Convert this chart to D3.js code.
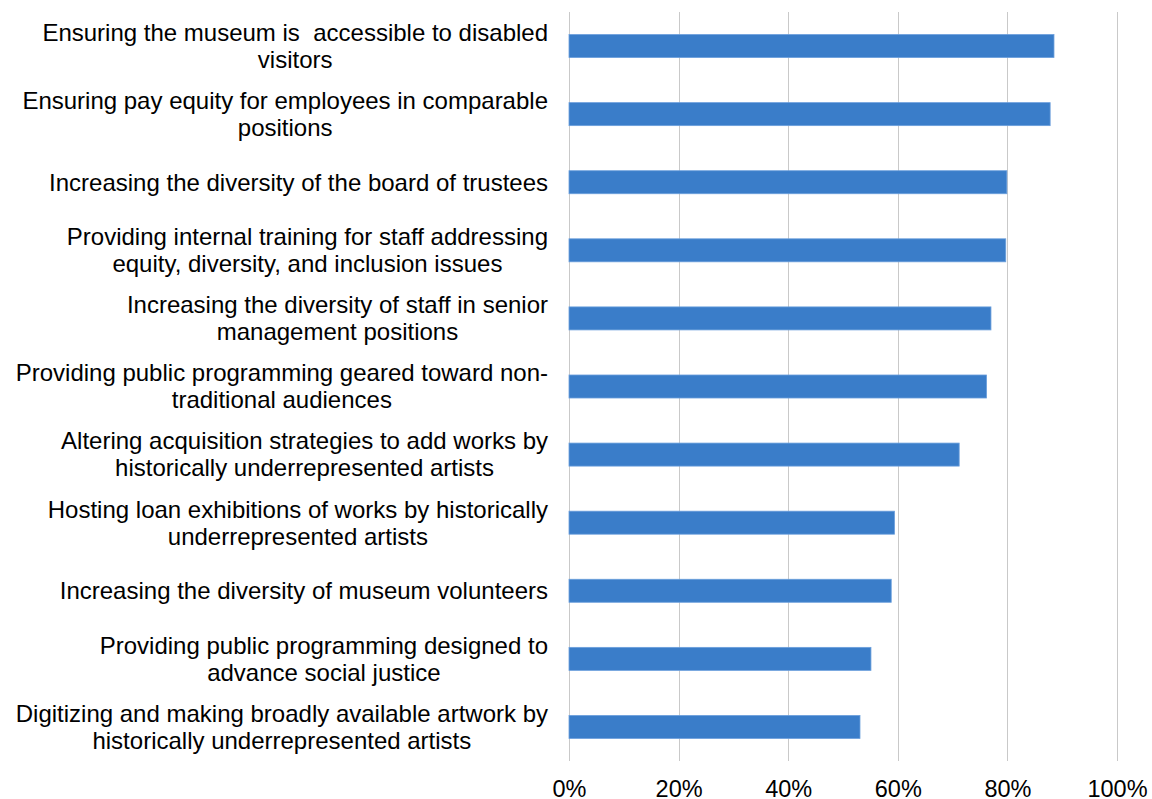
<!DOCTYPE html>
<html>
<head>
<meta charset="utf-8">
<script src="https://cdn.jsdelivr.net/npm/d3@7"></script>
<style>
  html, body { margin: 0; padding: 0; background: #fff; }
  svg { display: block; font-family: "Liberation Sans", Arial, sans-serif; }
</style>
</head>
<body>
<svg id="chart" width="1152" height="799"></svg>
<script>
// Category labels (line breaks as wrapped on the axis)
const categories = [
  "Ensuring the museum is  accessible to disabled\nvisitors",
  "Ensuring pay equity for employees in comparable\npositions",
  "Increasing the diversity of the board of trustees",
  "Providing internal training for staff addressing\nequity, diversity, and inclusion issues",
  "Increasing the diversity of staff in senior\nmanagement positions",
  "Providing public programming geared toward non-\ntraditional audiences",
  "Altering acquisition strategies to add works by\nhistorically underrepresented artists",
  "Hosting loan exhibitions of works by historically\nunderrepresented artists",
  "Increasing the diversity of museum volunteers",
  "Providing public programming designed to\nadvance social justice",
  "Digitizing and making broadly available artwork by\nhistorically underrepresented artists"
];

// Share of respondents (fraction)
const values = [0.885, 0.878, 0.799, 0.797, 0.770, 0.762, 0.712, 0.594, 0.588, 0.551, 0.531];

// X axis tick values
const ticks = [0, 0.2, 0.4, 0.6, 0.8, 1.0];

const svg = d3.select("#chart");
const plotLeft = 569, plotRight = 1117, plotTop = 12, plotBottom = 761;

const x = d3.scaleLinear().domain([0, 1]).range([plotLeft, plotRight]);
const y = d3.scaleBand().domain(categories).range([plotTop, plotBottom]).paddingInner(0.662).paddingOuter(0.331);

// vertical gridlines
svg.append("g")
  .selectAll("line")
  .data(ticks)
  .join("line")
  .attr("x1", d => Math.round(x(d)) + 0.5)
  .attr("x2", d => Math.round(x(d)) + 0.5)
  .attr("y1", plotTop)
  .attr("y2", plotBottom)
  .attr("stroke", "#c9c9c9")
  .attr("stroke-width", 1);

// bars
svg.append("g")
  .selectAll("rect")
  .data(categories)
  .join("rect")
  .attr("x", x(0))
  .attr("y", d => y(d))
  .attr("width", (d, i) => x(values[i]) - x(0))
  .attr("height", y.bandwidth())
  .attr("fill", "#3a7dc9")
  .attr("stroke", "#6b9fdc")
  .attr("stroke-width", 0.8);

// x axis tick labels
const xAxis = d3.axisBottom(x).tickValues(ticks).tickFormat(d3.format(".0%")).tickSize(0).tickPadding(0);
const gx = svg.append("g").attr("transform", `translate(0, ${plotBottom + 19})`).call(xAxis);
gx.select(".domain").remove();
gx.selectAll("text")
  .attr("font-size", 23.5)
  .attr("font-family", "Liberation Sans, Arial, sans-serif")
  .attr("fill", "#000")
  .attr("dy", "0.71em");

// category labels: block right-aligned to the axis, lines centred within it
const labelRight = 548;
const lineH = 27;
const lg = svg.append("g");
categories.forEach(c => {
  const lines = c.split("\n");
  const t = lg.append("text")
    .attr("font-size", 24)
    .attr("fill", "#000")
    .style("white-space", "pre");
  const spans = lines.map(l => t.append("tspan").text(l));
  const widths = spans.map(s => s.node().getComputedTextLength());
  const maxW = d3.max(widths);
  const cy = y(c) + y.bandwidth() / 2;
  const y0 = cy - (lines.length - 1) * lineH / 2;
  spans.forEach((s, i) => {
    s.attr("x", labelRight - maxW / 2)
     .attr("y", y0 + i * lineH)
     .attr("text-anchor", "middle")
     .attr("dy", "0.35em");
  });
});
</script>
</body>
</html>
